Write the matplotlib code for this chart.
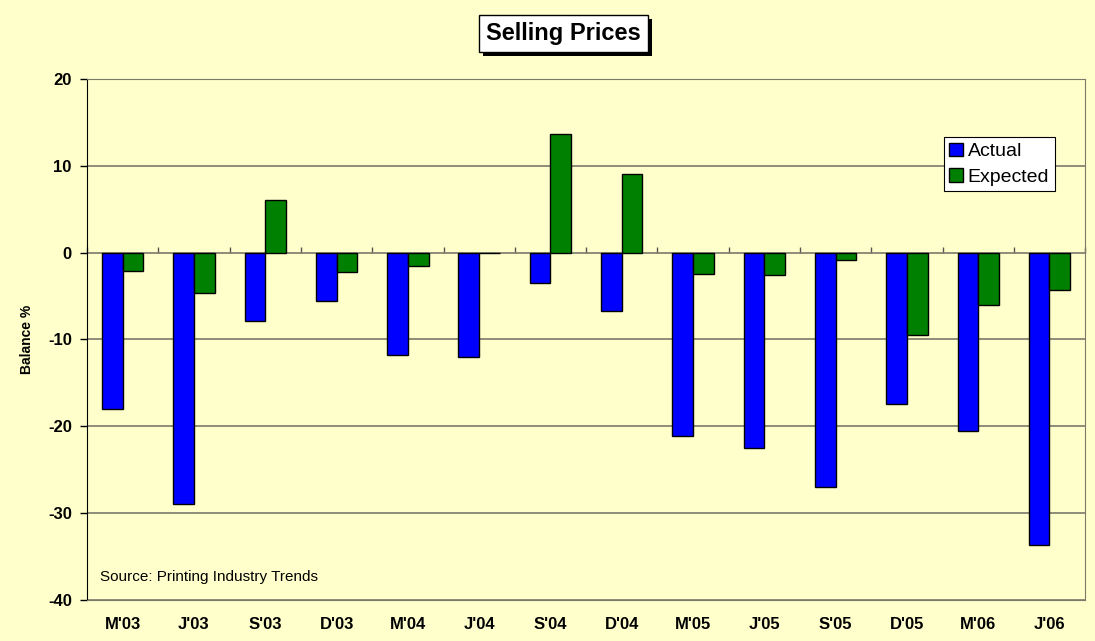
import matplotlib

matplotlib.use("Agg")
import matplotlib.pyplot as plt
import matplotlib.patheffects as pe
import numpy as np
from matplotlib.patches import Patch

plt.rcParams["font.family"] = ["Liberation Sans", "DejaVu Sans"]

quarters = ["M'03", "J'03", "S'03", "D'03", "M'04", "J'04", "S'04",
            "D'04", "M'05", "J'05", "S'05", "D'05", "M'06", "J'06"]
actual = [-18.0, -28.9, -7.9, -5.6, -11.8, -12.0, -3.5,
          -6.7, -21.1, -22.5, -27.0, -17.4, -20.6, -33.7]
expected = [-2.1, -4.6, 6.0, -2.2, -1.5, 0.0, 13.6,
            9.1, -2.5, -2.6, -0.9, -9.5, -6.0, -4.3]
yticks = [20, 10, 0, -10, -20, -30, -40]

BG = "#FFFFCC"
GRID = "#7a7a6a"

fig = plt.figure(figsize=(10.95, 6.41), dpi=100, facecolor=BG)
ax = fig.add_axes([0.0795, 0.064, 0.9115, 0.813], facecolor=BG)

x = np.arange(len(quarters))
w = 0.29
ax.bar(x - w / 2, actual, w, color="#0000FF", edgecolor="black", lw=1,
       zorder=3)
ax.bar(x + w / 2, expected, w, color="#008000", edgecolor="black", lw=1,
       zorder=3)

ax.set_xlim(-0.5, len(quarters) - 0.5)
ax.set_ylim(-40, 20)
ax.set_yticks(yticks)
ax.set_yticklabels([str(v) for v in yticks], fontsize=12, fontweight="bold")
ax.tick_params(axis="y", direction="out", length=5, width=1, pad=6)
ax.yaxis.grid(True, color=GRID, lw=1.2, zorder=1)

ax.set_xticks(x)
ax.set_xticklabels(quarters, fontsize=12, fontweight="bold")
ax.tick_params(axis="x", length=0, pad=12)

for s in ["top", "right", "bottom"]:
    ax.spines[s].set_color(GRID)
ax.spines["left"].set_color("black")

# zero axis with tick marks between categories
zero = ax.secondary_xaxis(40 / 60)
zero.set_xticks(np.arange(len(quarters) + 1) - 0.5)
zero.set_xticklabels([])
zero.tick_params(direction="out", length=4, width=1, color="#555555")
zero.spines["bottom"].set_visible(False)
zero.spines["top"].set_visible(False)

ax.set_ylabel("Balance %", fontsize=10, fontweight="bold", labelpad=10)

ax.text(0.013, 0.045, "Source: Printing Industry Trends", fontsize=11,
        transform=ax.transAxes, va="center")

handles = [Patch(facecolor="#0000FF", edgecolor="black", label="Actual"),
           Patch(facecolor="#008000", edgecolor="black", label="Expected")]
leg = ax.legend(handles=handles, loc="upper right",
                bbox_to_anchor=(0.970, 0.889), fontsize=14, frameon=True,
                fancybox=False, edgecolor="black", framealpha=1,
                handlelength=0.7, handleheight=0.7, handletextpad=0.25,
                borderpad=0.3, labelspacing=0.4, borderaxespad=0)
leg.get_frame().set_linewidth(0.8)

title = fig.text(0.5146, 0.948, "Selling Prices", fontsize=17,
                 fontweight="bold", ha="center", va="center",
                 bbox=dict(boxstyle="square,pad=0.3", facecolor="white",
                           edgecolor="black", lw=1))
title.get_bbox_patch().set_path_effects(
    [pe.SimplePatchShadow(offset=(3, -3), shadow_rgbFace="black", alpha=1),
     pe.Normal()])

fig.savefig("out.png", dpi=100, facecolor=BG)
